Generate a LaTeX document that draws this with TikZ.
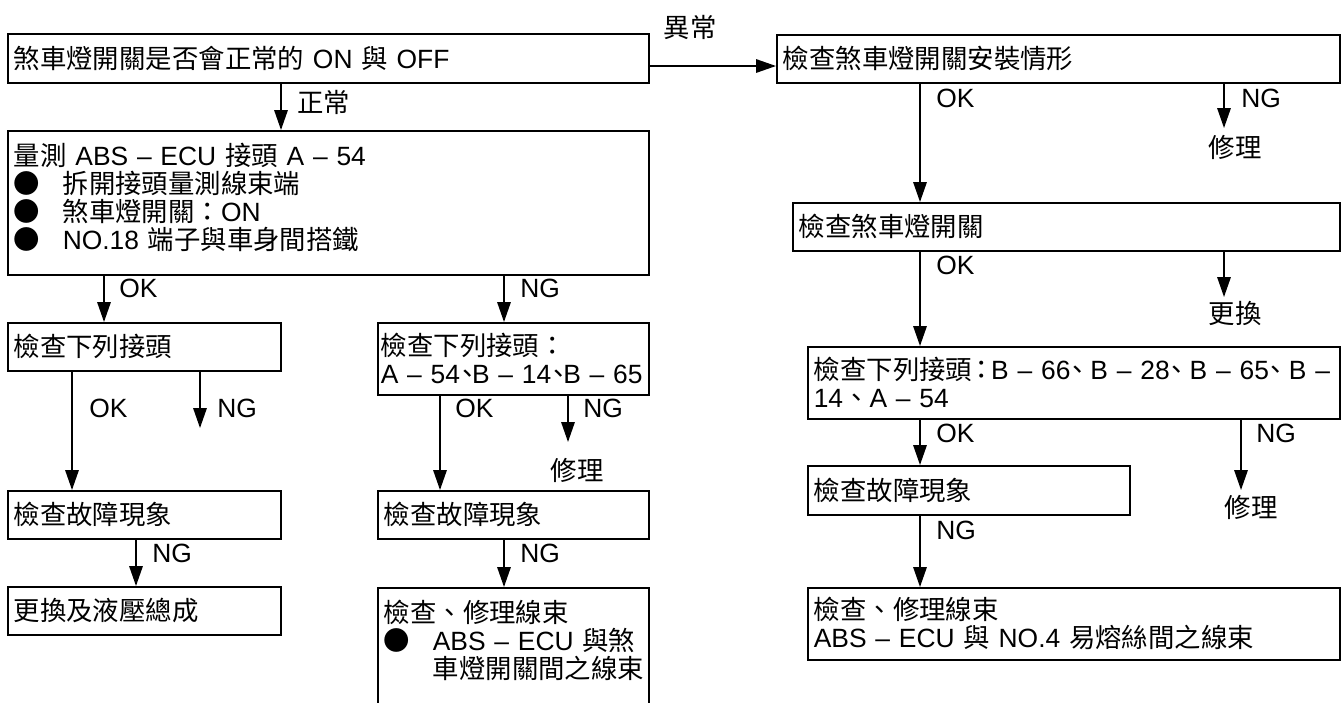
\documentclass[tikz,border=0pt]{standalone}
\usepackage{fontspec}
\setmainfont{Liberation Sans}
\newfontfamily\zhfont{Noto Sans CJK TC}
\usetikzlibrary{arrows.meta}

\newcommand\zw[1]{{\zhfont #1}}
\newcommand\dotitem{\makebox[24.5pt][l]{\zhfont ●}}
\newcommand\halfdun[1][6pt]{\makebox[#1][l]{\hspace{-3pt}\zhfont 、}}
\newcommand\halfcolon{\makebox[9.5pt][c]{\zhfont ：}}
\newcommand\flowfont{\fontsize{13.2}{14}\selectfont}

\begin{document}
\begin{tikzpicture}[
  x=0.5pt, y=-0.5pt,
  every node/.style={font=\flowfont},
  flowbox/.style={rectangle,draw,line width=0.8pt,anchor=north west,align=left,inner xsep=3pt,inner ysep=0pt},
  tallbox/.style={flowbox,inner ysep=6pt},
  tag/.style={anchor=west,inner sep=0pt},
  arrow/.style={-{Triangle[length=10pt,width=6.75pt]},line width=0.8pt}
]
  \useasboundingbox (0,0) rectangle (1343,702);

  \node[flowbox,text width=314.5pt,minimum height=24.5pt] (switch) at (7,33) {\zw{煞車燈開關是否會正常的} ON \zw{與} OFF};
  \node[flowbox,text width=275.5pt,minimum height=24pt] (mount) at (776,34) {\zw{檢查煞車燈開關安裝情形}};
  \node[tallbox,text width=314.5pt] (measure) at (7,130) {\parbox[c][60pt][t]{\linewidth}{%
    \zw{量測} ABS – ECU \zw{接頭} A – 54\\
    \dotitem\zw{拆開接頭量測線束端}\\
    \dotitem\zw{煞車燈開關：}ON\\
    \dotitem NO.18 \zw{端子與車身間搭鐵}}};
  \node[flowbox,text width=130.5pt,minimum height=24pt] (plugA) at (7,322) {\zw{檢查下列接頭}};
  \node[flowbox,text width=132.5pt,inner xsep=1.5pt,minimum height=36pt] (connA) at (377,322) {\zw{檢查下列接頭：}\\\mbox{A – 54\halfdun B – 14\halfdun B – 65}};
  \node[flowbox,text width=130.5pt,minimum height=24pt] (symA) at (7,490) {\zw{檢查故障現象}};
  \node[flowbox,text width=129.5pt,minimum height=24pt] (symB) at (377,490) {\zw{檢查故障現象}};
  \node[flowbox,text width=130.5pt,minimum height=24pt] (pump) at (7,586) {\zw{更換及液壓總成}};
  \node[tallbox,text width=129.5pt] (wireA) at (377,587) {\parbox[c][55.5pt][t]{\linewidth}{%
    \zw{檢查、修理線束}\\
    \dotitem ABS – ECU \zw{與煞}\\
    \hspace*{24.5pt}\zw{車燈開關間之線束}}};
  \node[flowbox,text width=267.5pt,minimum height=24pt] (lampsw) at (792,202) {\zw{檢查煞車燈開關}};
  \node[flowbox,text width=260pt,minimum height=36pt] (connC) at (807,346) {\mbox{\zw{檢查下列接頭}\halfcolon B – 66\halfdun[10pt]B – 28\halfdun[10pt]B – 65\halfdun[10pt]B –}\\14\zw{、}A – 54};
  \node[flowbox,text width=155pt,minimum height=24.5pt] (symC) at (807,465) {\zw{檢查故障現象}};
  \node[flowbox,text width=260pt,minimum height=36pt] (wireB) at (807,587) {\zw{檢查、修理線束}\\ABS – ECU \zw{與} NO.4 \zw{易熔絲間之線束}};

  \coordinate (abn) at (700,66);
  \coordinate (colN) at (281,0);
  \coordinate (colA) at (104,0);
  \coordinate (colB) at (504,0);
  \coordinate (colAok) at (72,0);
  \coordinate (colBok) at (440,0);
  \coordinate (colAng) at (136,0);
  \coordinate (colR) at (920,0);
  \coordinate (endA) at (200,428);
  \coordinate (endB) at (568,442);
  \coordinate (endC) at (1224,128);
  \coordinate (endD) at (1224,297);
  \coordinate (endE) at (1241,490);

  \draw[arrow] (switch.east |- abn) -- (mount.west |- abn);
  \draw[arrow] (switch.south -| colN) -- (measure.north -| colN);
  \draw[arrow] (measure.south -| colA) -- (plugA.north -| colA);
  \draw[arrow] (measure.south -| colB) -- (connA.north -| colB);
  \draw[arrow] (plugA.south -| colAok) -- (symA.north -| colAok);
  \draw[arrow] (plugA.south -| endA) -- (endA);
  \draw[arrow] (connA.south -| colBok) -- (symB.north -| colBok);
  \draw[arrow] (connA.south -| endB) -- (endB);
  \draw[arrow] (symA.south -| colAng) -- (pump.north -| colAng);
  \draw[arrow] (symB.south -| colB) -- (wireA.north -| colB);
  \draw[arrow] (mount.south -| colR) -- (lampsw.north -| colR);
  \draw[arrow] (mount.south -| endC) -- (endC);
  \draw[arrow] (lampsw.south -| colR) -- (connC.north -| colR);
  \draw[arrow] (lampsw.south -| endD) -- (endD);
  \draw[arrow] (connC.south -| colR) -- (symC.north -| colR);
  \draw[arrow] (connC.south -| endE) -- (endE);
  \draw[arrow] (symC.south -| colR) -- (wireB.north -| colR);

  \node[tag,anchor=center] (abnTag) at (690,27) {\zw{異常}};
  \node[tag] (normTag) at (297,102) {\zw{正常}};
  \node[tag] (okA) at (119,288) {OK};
  \node[tag] (ngA) at (520,288) {NG};
  \node[tag] (okB) at (89,408) {OK};
  \node[tag] (ngB) at (217,408) {NG};
  \node[tag] (okC) at (455,408) {OK};
  \node[tag] (ngC) at (583,408) {NG};
  \node[tag,anchor=center] (fixA) at (577,470) {\zw{修理}};
  \node[tag] (ngD) at (152,553) {NG};
  \node[tag] (ngE) at (520,553) {NG};
  \node[tag] (okD) at (936,98) {OK};
  \node[tag] (ngF) at (1241,98) {NG};
  \node[tag,anchor=center] (fixB) at (1235,147) {\zw{修理}};
  \node[tag] (okE) at (936,265) {OK};
  \node[tag,anchor=center] (swap) at (1235,313) {\zw{更換}};
  \node[tag] (okF) at (936,433) {OK};
  \node[tag] (ngG) at (1256,433) {NG};
  \node[tag,anchor=center] (fixC) at (1251,507) {\zw{修理}};
  \node[tag] (ngH) at (936,530) {NG};
\end{tikzpicture}
\end{document}
